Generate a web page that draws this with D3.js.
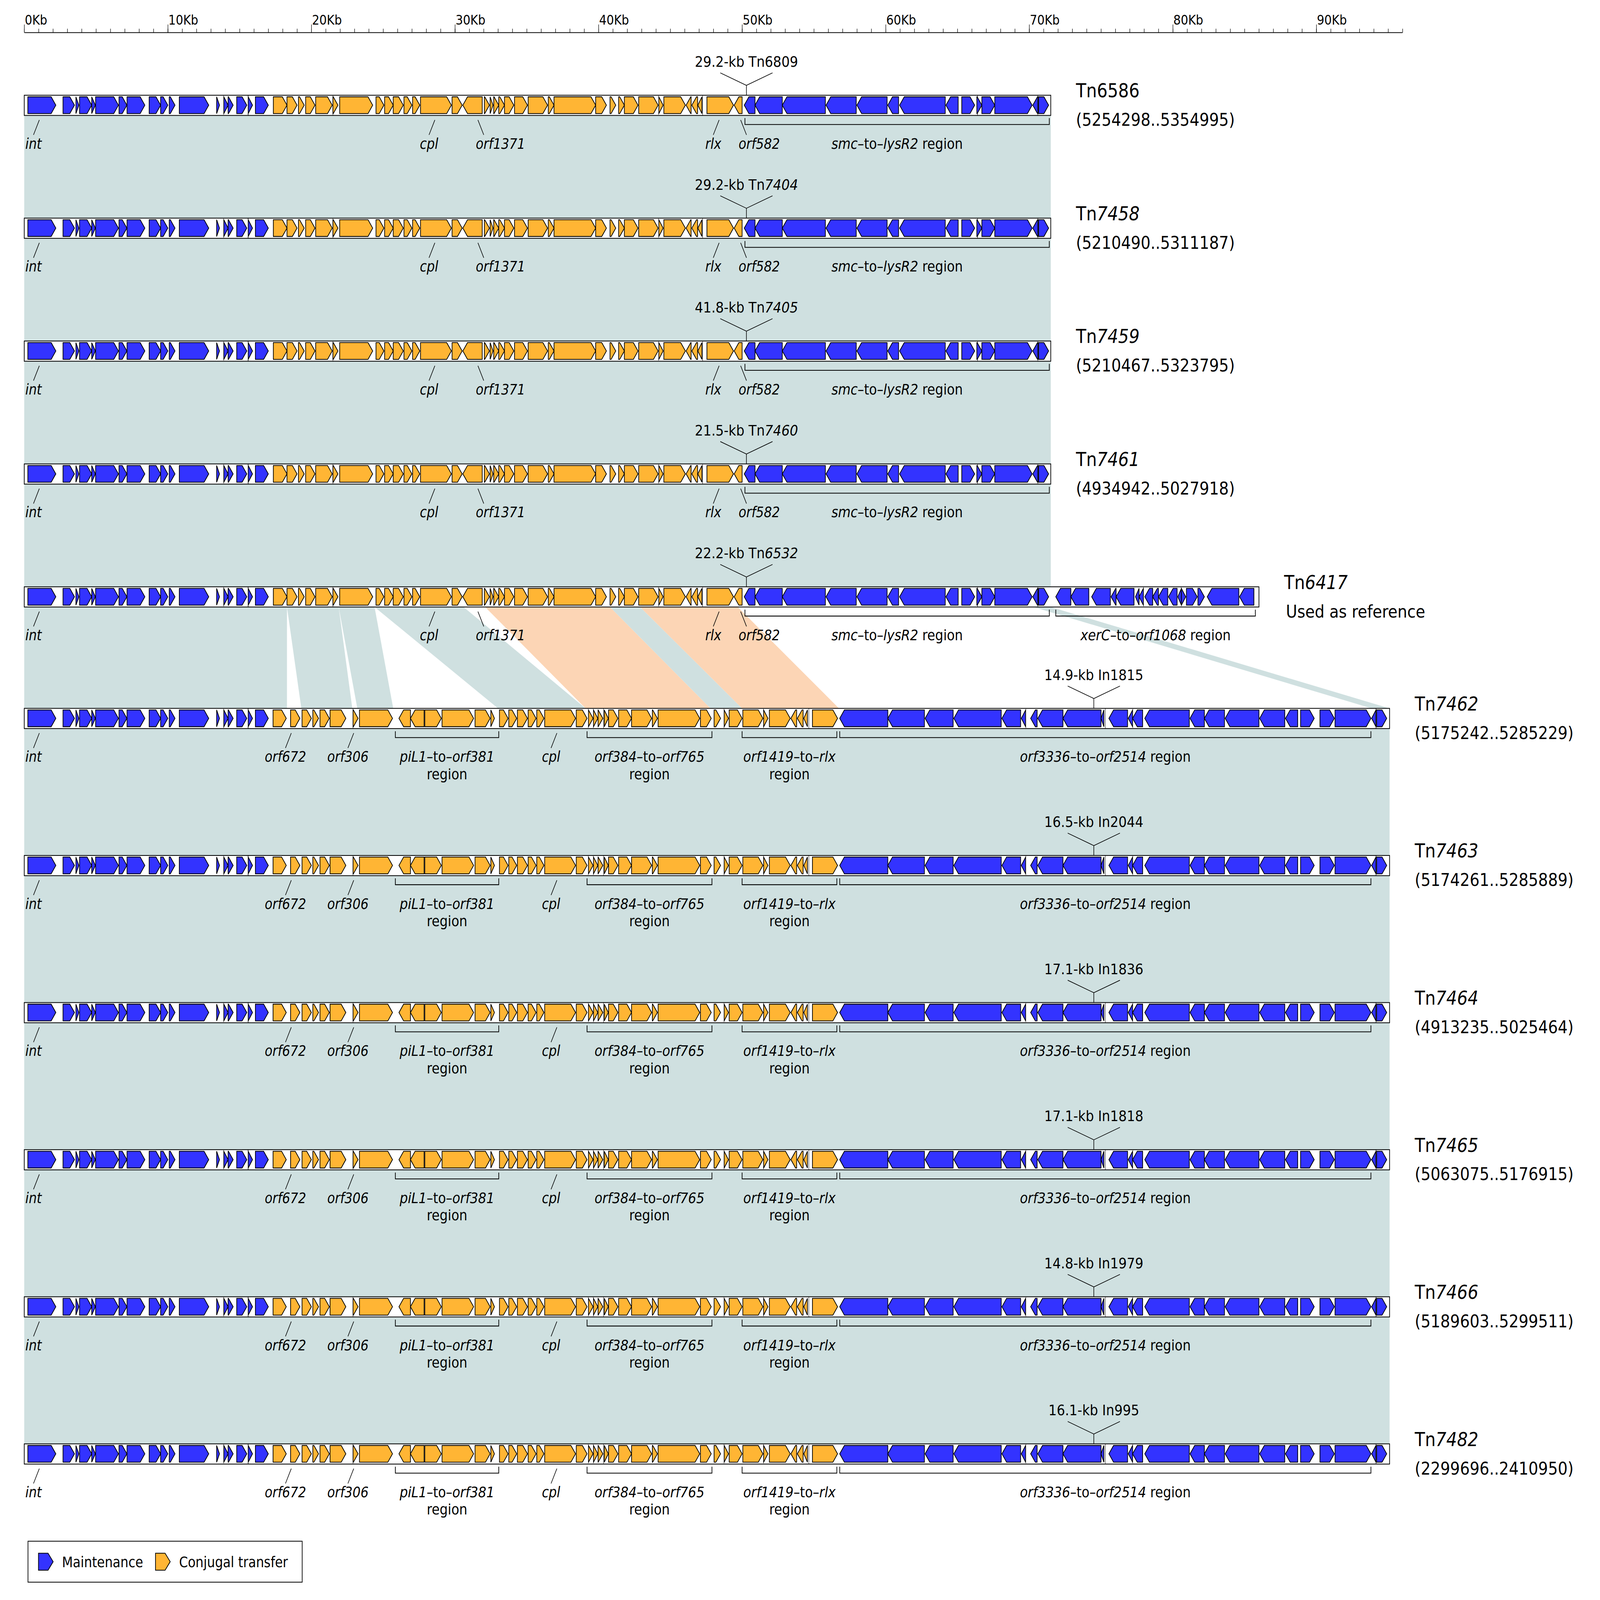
<!DOCTYPE html>
<html>
<head>
<meta charset="utf-8">
<script src="https://cdn.jsdelivr.net/npm/d3@7"></script>
<style>
  html, body { margin: 0; padding: 0; background: #fff; overflow: hidden; }
  svg { display: block; width: 100vw; height: 100vh; }
  svg text { font-family: "DejaVu Sans", sans-serif; fill: #000; }
</style>
</head>
<body>
<div id="chart"></div>
<script>
// ---- data (kb) ----
const trackNums    = ["6586","7458","7459","7461","6417","7462","7463","7464","7465","7466","7482"];
const trackNumItal = [false, true, true, true, true, true, true, true, true, true, true];
const trackCoords  = ["(5254298..5354995)","(5210490..5311187)","(5210467..5323795)","(4934942..5027918)",
                      "Used as reference","(5175242..5285229)","(5174261..5285889)","(4913235..5025464)",
                      "(5063075..5176915)","(5189603..5299511)","(2299696..2410950)"];
const trackLength  = [71.5, 71.5, 71.5, 71.5, 86.0, 95.1, 95.1, 95.1, 95.1, 95.1, 95.1];
const trackLayout  = ["A","A","A","A","R","B","B","B","B","B","B"];

const insertAt     = [50.3, 50.3, 50.3, 50.3, 50.3, 74.5, 74.5, 74.5, 74.5, 74.5, 74.5];
const insertSize   = ["29.2","29.2","41.8","21.5","22.2","14.9","16.5","17.1","17.1","14.8","16.1"];
const insertKind   = ["Tn","Tn","Tn","Tn","Tn","In","In","In","In","In","In"];
const insertNum    = ["6809","7404","7405","7460","6532","1815","2044","1836","1818","1979","995"];
const insertItal   = [false, true, true, true, true, false, false, false, false, false, false];

// genes: [start, end, strand]
const maintStart = [[0.25,2.2,1],[2.7,3.5,1],[3.6,3.8,1],[3.85,4.7,1],[4.7,4.95,1],[4.97,6.56,1],[6.6,7.15,1],
  [7.16,8.4,1],[8.7,9.5,1],[9.5,10.0,1],[10.1,10.5,1],[10.8,12.85,1],[13.4,13.6,1],[13.9,14.2,1],
  [14.2,14.55,1],[14.8,15.5,1],[15.6,15.9,1],[16.1,17.0,1]];
const conjA = [[17.35,18.3,1],[18.3,19.0,1],[19.1,19.5,1],[19.6,20.25,1],[20.3,21.45,1],[21.5,21.85,1],
  [21.97,24.27,1],[24.5,25.05,1],[25.1,25.7,1],[25.7,26.4,1],[26.45,27.0,1],[27.05,27.55,1],[27.6,29.75,1],
  [29.8,30.5,1],[30.55,31.9,-1],[32.05,32.4,1],[32.45,32.65,1],[32.7,33.05,1],[33.05,33.45,1],[33.45,34.1,1],
  [34.15,35.05,1],[35.1,36.45,1],[36.5,36.9,1],[36.9,39.8,1],[39.8,40.55,1],[40.8,41.2,1],[41.4,41.8,1],
  [41.8,42.75,1],[42.8,44.15,1],[44.2,44.5,1],[44.55,46.05,1],[46.1,46.45,-1],[46.5,46.9,-1],[46.92,47.2,-1],
  [47.55,49.4,1],[49.45,50.0,-1]];
const maintA = [[50.15,50.9,-1],[50.9,52.8,-1],[52.8,55.8,-1],[55.85,57.95,-1],[58.0,60.1,-1],[60.15,60.9,-1],
  [60.97,64.15,-1],[64.2,65.05,-1],[65.3,66.2,1],[66.35,66.7,1],[66.7,67.6,1],[67.6,70.2,1],[70.25,70.6,-1],
  [70.65,71.35,1]];
const maintRef = [[71.85,72.9,-1],[72.9,74.15,-1],[74.35,75.65,-1],[75.7,76.05,-1],[76.05,77.3,-1],
  [77.4,77.65,-1],[77.65,77.95,-1],[78.05,78.6,-1],[78.6,79.0,-1],[79.0,79.65,-1],[79.7,80.3,-1],
  [80.35,80.6,-1],[80.6,80.9,1],[80.95,81.7,1],[81.75,82.2,1],[82.4,84.6,-1],[84.65,85.65,-1]];
const conjB = [[17.33,18.25,1],[18.55,19.2,1],[19.35,20.0,1],[20.1,20.5,1],[20.6,21.25,1],[21.3,22.4,1],
  [22.9,23.25,1],[23.35,25.65,1],[26.1,26.9,-1],[26.9,27.85,-1],[27.9,29.05,1],[29.1,31.3,1],[31.4,32.45,1],
  [32.5,32.75,1],[33.1,33.7,1],[33.75,34.3,1],[34.35,35.05,1],[35.1,35.65,1],[35.7,36.2,1],[36.25,38.4,1],
  [38.45,39.2,1],[39.3,39.62,1],[39.65,39.95,1],[39.97,40.3,1],[40.4,40.68,1],[40.7,41.35,1],[41.4,42.3,1],
  [42.3,43.7,1],[43.75,44.1,1],[44.15,47.05,1],[47.1,47.85,1],[48.05,48.5,1],[48.75,49.05,1],[49.1,50.0,1],
  [50.05,51.45,1],[51.5,51.8,1],[51.9,53.35,1],[53.4,53.8,-1],[53.85,54.25,-1],[54.3,54.55,-1],[54.9,56.65,1]];
const maintB = [[56.8,60.15,-1],[60.15,62.7,-1],[62.75,64.7,-1],[64.75,68.05,-1],[68.1,69.4,-1],[69.45,69.75,-1],
  [70.1,70.55,-1],[70.6,72.35,-1],[72.35,75.0,-1],[75.0,75.2,-1],[75.55,76.85,-1],[76.9,77.2,-1],[77.2,77.9,-1],
  [78.05,81.15,-1],[81.2,82.2,-1],[82.2,83.6,-1],[83.65,86.0,-1],[86.05,87.8,-1],[87.85,88.7,-1],[88.9,89.85,1],
  [90.25,91.25,1],[91.3,93.8,1],[93.85,94.15,-1],[94.2,94.9,1]];

// thin segment boundaries inside the boxes
const sepA = [15.6, 21.5, 47.25, 66.4, 70.6];
const sepB = [15.6, 22.9, 40.35, 54.65, 75.3, 94.15];

// gene labels: [name, kb, slant]
const labelsA = [["int",1.05,-1],["cpl",28.6,-1],["orf1371",31.6,1],["rlx",48.4,-1],["orf582",49.9,1]];
const labelsB = [["int",1.05,-1],["orf672",18.6,-1],["orf306",22.95,-1],["cpl",37.1,-1]];

// region brackets: [from, to, first line parts, second line]
const bracketsA = [[50.2,71.4,[["smc",1],["\u2013to\u2013",0],["lysR2",1],[" region",0]],null]];
const bracketsRef = [[71.85,85.75,[["xerC",1],["\u2013to\u2013",0],["orf1068",1],[" region",0]],null]];
const bracketsB = [
  [25.85,33.05,[["piL1",1],["\u2013to\u2013",0],["orf381",1]],"region"],
  [39.2,47.9,[["orf384",1],["\u2013to\u2013",0],["orf765",1]],"region"],
  [50.0,56.6,[["orf1419",1],["\u2013to\u2013",0],["rlx",1]],"region"],
  [56.8,93.8,[["orf3336",1],["\u2013to\u2013",0],["orf2514",1],[" region",0]],null]];

// homology blocks: [topFrom, topTo, bottomFrom, bottomTo, kind]
const linksSame = [[0,71.5,0,71.5,"g"]];
const linksRefToB = [[0,18.3,0,18.3,"g"],[18.3,21.9,19.3,22.85,"g"],[21.9,24.4,23.2,25.7,"g"],
  [24.4,30.6,33.0,39.1,"g"],[32.1,40.8,39.1,47.8,"p"],[40.8,42.9,47.8,50.0,"g"],[42.9,49.7,50.0,56.75,"p"],
  [70.3,71.5,93.85,95.1,"g"]];
const linksB = [[0,95.1,0,95.1,"g"]];

const axisMax = 96;
const legendItems = [["Maintenance","m"],["Conjugal transfer","c"]];

// ---- drawing ----
const W = 6862, H = 6015;
const col = { m: "#3333ff", c: "#ffb534", g: "#cfe0e0", p: "#fcd5b5" };
const boxH = 76;
const x = d3.scaleLinear().domain([0, axisMax]).range([104, 6015]);
const trackTop = i => i < 5 ? 358 + i * 462 : 2663 + (i - 5) * 553;

// the drawing is laid out in 6862x6015 units and stretched onto whatever the window is
const svg = d3.select("#chart").append("svg")
  .attr("viewBox", `0 0 ${W} ${H}`)
  .attr("preserveAspectRatio", "none");
svg.append("rect").attr("width", W).attr("height", H).attr("fill", "#fff");

function richText(sel, parts) {
  parts.forEach(([t, it]) => sel.append("tspan").text(t).attr("font-style", it ? "italic" : "normal"));
  return sel;
}

// homology shading
const linkG = svg.append("g");
for (let i = 0; i < trackNums.length - 1; i++) {
  const links = i < 4 ? linksSame : (i === 4 ? linksRefToB : linksB);
  const yt = trackTop(i) + boxH, yb = trackTop(i + 1);
  links.forEach(([a, b, c, d, k]) => {
    linkG.append("polygon")
      .attr("points", [[x(a), yt], [x(b), yt], [x(d), yb], [x(c), yb]].map(p => p.join(",")).join(" "))
      .attr("fill", col[k]);
  });
}

function arrowPts(x1, x2, strand, yt, yb, head) {
  const h = Math.min(head, x2 - x1), ym = (yt + yb) / 2;
  const pts = strand > 0
    ? [[x1, yt], [x2 - h, yt], [x2, ym], [x2 - h, yb], [x1, yb]]
    : [[x2, yt], [x1 + h, yt], [x1, ym], [x1 + h, yb], [x2, yb]];
  return pts.map(p => p.join(",")).join(" ");
}

const layoutGenes = {
  A: [...maintStart.map(g => [...g, "m"]), ...conjA.map(g => [...g, "c"]), ...maintA.map(g => [...g, "m"])],
  B: [...maintStart.map(g => [...g, "m"]), ...conjB.map(g => [...g, "c"]), ...maintB.map(g => [...g, "m"])]
};
layoutGenes.R = [...layoutGenes.A, ...maintRef.map(g => [...g, "m"])];

trackNums.forEach((num, i) => {
  const top = trackTop(i), bot = top + boxH, lay = trackLayout[i];
  const g = svg.append("g");

  g.append("rect")
    .attr("x", x(0)).attr("y", top)
    .attr("width", x(trackLength[i]) - x(0)).attr("height", boxH)
    .attr("fill", "#fff").attr("stroke", "#000").attr("stroke-width", 3);

  (lay === "B" ? sepB : sepA).forEach(s => {
    g.append("line").attr("x1", x(s)).attr("x2", x(s)).attr("y1", top).attr("y2", bot)
      .attr("stroke", "#000").attr("stroke-width", 1.5);
  });

  layoutGenes[lay].forEach(([s, e, st, k]) => {
    g.append("polygon")
      .attr("points", arrowPts(x(s), x(e), st, top + 6, bot - 7, 20))
      .attr("fill", col[k]).attr("stroke", "#000").attr("stroke-width", 3)
      .attr("stroke-linejoin", "miter");
  });

  // insertion marker
  const xi = x(insertAt[i]);
  g.append("path")
    .attr("d", `M${xi},${top}V${top - 37}M${xi - 112},${top - 84}L${xi},${top - 37}L${xi + 112},${top - 84}`)
    .attr("fill", "none").attr("stroke", "#000").attr("stroke-width", 2.5);
  richText(g.append("text").attr("x", xi).attr("y", top - 107)
    .attr("text-anchor", "middle").attr("font-size", 56),
    [[`${insertSize[i]}-kb ${insertKind[i]}`, 0], [insertNum[i], insertItal[i]]]);

  // gene labels
  (lay === "B" ? labelsB : labelsA).forEach(([name, kb, dir]) => {
    const x0 = x(kb), x1 = x0 + dir * 25;
    g.append("line").attr("x1", x0).attr("y1", bot + 17).attr("x2", x1).attr("y2", bot + 73)
      .attr("stroke", "#000").attr("stroke-width", 2.5);
    g.append("text").text(name)
      .attr("x", dir < 0 ? x1 : x1 - 34).attr("y", bot + 125)
      .attr("text-anchor", dir < 0 ? "middle" : "start")
      .attr("font-size", 54).attr("font-style", "italic");
  });

  // region brackets
  const brs = lay === "B" ? bracketsB : (lay === "R" ? [...bracketsA, ...bracketsRef] : bracketsA);
  brs.forEach(([a, b, parts, second]) => {
    g.append("path")
      .attr("d", `M${x(a)},${bot + 10}V${bot + 34}H${x(b)}V${bot + 10}`)
      .attr("fill", "none").attr("stroke", "#000").attr("stroke-width", 3);
    const cx = (x(a) + x(b)) / 2;
    richText(g.append("text").attr("x", cx).attr("y", bot + 125)
      .attr("text-anchor", "middle").attr("font-size", 55), parts);
    if (second) {
      g.append("text").text(second).attr("x", cx).attr("y", bot + 190)
        .attr("text-anchor", "middle").attr("font-size", 55);
    }
  });

  // track name
  const nx = x(trackLength[i]) + 108;
  richText(g.append("text").attr("x", nx).attr("y", top + 8).attr("font-size", 72),
    [["Tn", 0], [num, trackNumItal[i]]]);
  g.append("text").text(trackCoords[i])
    .attr("x", nx + (i === 4 ? 8 : 0)).attr("y", top + 115).attr("font-size", 66);
});

// scale axis
const axG = svg.append("g").attr("transform", "translate(0,122)");
axG.call(d3.axisTop(x).tickValues(d3.range(0, axisMax + 1, 1)).tickSize(14).tickSizeOuter(0).tickFormat(""));
axG.select(".domain").attr("stroke-width", 3);
axG.selectAll(".tick line").attr("stroke-width", 2);
const axMajor = svg.append("g").attr("transform", "translate(0,122)");
axMajor.call(d3.axisTop(x).tickValues(d3.range(0, axisMax, 10)).tickSize(30).tickSizeOuter(0)
  .tickFormat(d => d + "Kb"));
axMajor.select(".domain").remove();
axMajor.selectAll(".tick line").attr("stroke-width", 2);
axMajor.selectAll(".tick text")
  .attr("x", 2).attr("y", -29).attr("dy", 0)
  .attr("text-anchor", "start")
  .attr("font-family", "DejaVu Sans").attr("font-size", 50).attr("fill", "#000");

// legend
const lg = svg.append("g");
lg.append("rect").attr("x", 120).attr("y", 5794).attr("width", 1176).attr("height", 154)
  .attr("fill", "#fff").attr("stroke", "#000").attr("stroke-width", 3);
const legX = [165, 667];
legendItems.forEach(([label, k], j) => {
  lg.append("polygon").attr("points", arrowPts(legX[j], legX[j] + 63, 1, 5839, 5903, 22))
    .attr("fill", col[k]).attr("stroke", "#000").attr("stroke-width", 3);
  lg.append("text").text(label).attr("x", legX[j] + 101).attr("y", 5892).attr("font-size", 54);
});
</script>
</body>
</html>
